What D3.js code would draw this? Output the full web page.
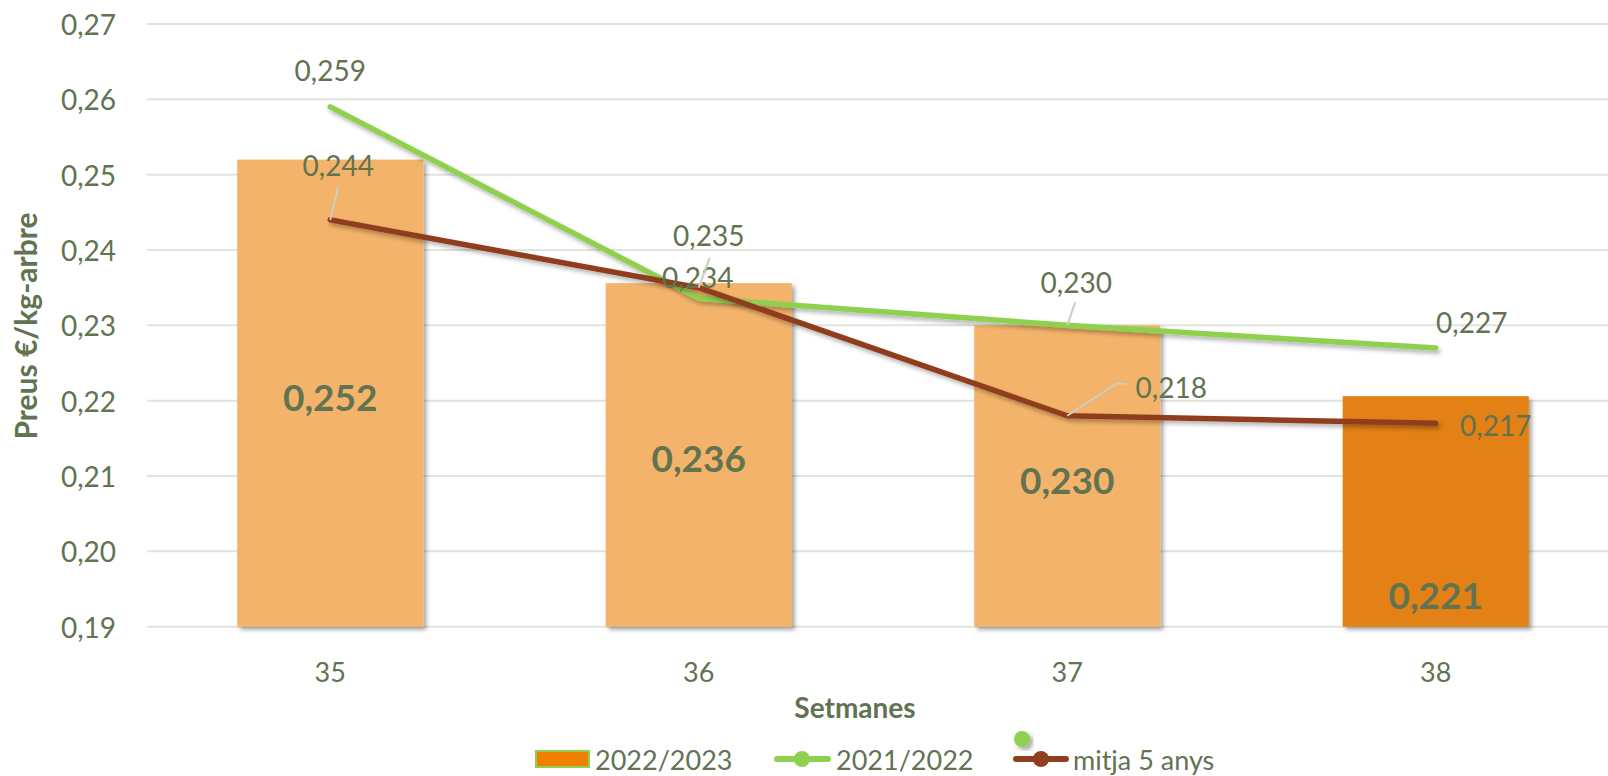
<!DOCTYPE html>
<html>
<head>
<meta charset="utf-8">
<script src="https://cdn.jsdelivr.net/npm/d3@7/dist/d3.min.js"></script>
<style>
  html, body { margin: 0; padding: 0; background: #fff; }
  svg { display: block; font-family: Lato, "Open Sans", sans-serif; }
</style>
</head>
<body>
<svg id="chart" width="1608" height="776"></svg>
<script>
// ---- data ----
const weeks = ["35", "36", "37", "38"];
const season2223 = [0.252, 0.2356, 0.230, 0.2206];
const season2122 = [0.259, 0.2336, 0.230, 0.227];
const avg5years = [0.244, 0.235, 0.218, 0.217];
const yTicks = [0.19, 0.20, 0.21, 0.22, 0.23, 0.24, 0.25, 0.26, 0.27];
const seriesNames = ["2022/2023", "2021/2022", "mitja 5 anys"];

// ---- layout / style ----
const W = 1608, H = 776;
const textColor = "#617350";
const gridColor = "#e3e3db";
const barLight = "#f3b36b";
const barDark = "#e38114";
const green = "#8fd14f";
const brown = "#8f3e1f";
const leaderColor = "#c9d0c0";
const fmt = v => d3.format(".3f")(v).replace(".", ",");
const fmtTick = v => d3.format(".2f")(v).replace(".", ",");

// manual data label placements (offsets from point), as in the original
const greenLabelLayout = [
  { dx: 0, dy: -37 },
  { dx: -1, dy: -21 },
  { dx: 9, dy: -43, leader: [[8, -23]] },
  { dx: 36, dy: -26 }
];
const brownLabelLayout = [
  { dx: 8, dy: -55, leader: [[8, -33]] },
  { dx: 10, dy: -53, leader: [[11, -30]] },
  { dx: 104, dy: -29, leader: [[49, -32], [59, -32]] },
  { dx: 60, dy: 2 }
];

const svg = d3.select("#chart");
const defs = svg.append("defs");
const f = defs.append("filter").attr("id", "shadow")
  .attr("x", "-20%").attr("y", "-20%").attr("width", "140%").attr("height", "140%");
f.append("feDropShadow").attr("dx", 3).attr("dy", 3).attr("stdDeviation", 2)
  .attr("flood-color", "#000").attr("flood-opacity", 0.35);
const fl = defs.append("filter").attr("id", "lshadow")
  .attr("x", "-5%").attr("y", "-50%").attr("width", "110%").attr("height", "200%");
fl.append("feDropShadow").attr("dx", 2).attr("dy", 3).attr("stdDeviation", 2)
  .attr("flood-color", "#000").attr("flood-opacity", 0.3);

const y = d3.scaleLinear().domain([0.19, 0.27]).range([626.7, 24]);
const x = d3.scalePoint().domain(weeks).range([146, 1620]).padding(0.5);
const barW = x.step() * 0.505;

// gridlines
svg.append("g").selectAll("line").data(yTicks).join("line")
  .attr("x1", 147).attr("x2", W)
  .attr("y1", d => y(d)).attr("y2", d => y(d))
  .attr("stroke", gridColor).attr("stroke-width", 2);

// y tick labels
svg.append("g").selectAll("text").data(yTicks).join("text")
  .attr("x", 116).attr("y", d => y(d))
  .attr("text-anchor", "end").attr("dominant-baseline", "central")
  .attr("fill", textColor).attr("font-size", 28)
  .text(fmtTick);

// y axis title
svg.append("text")
  .attr("transform", "translate(25,326) rotate(-90)")
  .attr("text-anchor", "middle").attr("dominant-baseline", "central")
  .attr("fill", textColor).attr("font-size", 30).attr("font-weight", "bold")
  .text("Preus €/kg-arbre");

// x tick labels
svg.append("g").selectAll("text").data(weeks).join("text")
  .attr("x", d => x(d)).attr("y", 671)
  .attr("text-anchor", "middle").attr("dominant-baseline", "central")
  .attr("fill", textColor).attr("font-size", 27)
  .text(d => d);

// x axis title
svg.append("text")
  .attr("x", 855).attr("y", 707)
  .attr("text-anchor", "middle").attr("dominant-baseline", "central")
  .attr("fill", textColor).attr("font-size", 28).attr("font-weight", "bold")
  .text("Setmanes");

// bars
svg.append("g").selectAll("rect").data(season2223).join("rect")
  .attr("x", (d, i) => x(weeks[i]) - barW / 2)
  .attr("width", barW)
  .attr("y", d => y(d))
  .attr("height", d => y(0.19) - y(d))
  .attr("fill", (d, i) => i === season2223.length - 1 ? barDark : barLight)
  .attr("filter", "url(#shadow)");

// bar labels
svg.append("g").selectAll("text").data(season2223).join("text")
  .attr("x", (d, i) => x(weeks[i]))
  .attr("y", (d, i) => i === season2223.length - 1 ? y(0.19) - 32 : (y(d) + y(0.19)) / 2 + 3)
  .attr("text-anchor", "middle").attr("dominant-baseline", "central")
  .attr("fill", textColor).attr("font-size", 37).attr("font-weight", "bold")
  .text(fmt);

// lines
const line = d3.line().x((d, i) => x(weeks[i])).y(d => y(d));
svg.append("path").datum(season2122).attr("d", line)
  .attr("fill", "none").attr("stroke", green).attr("stroke-width", 5.5)
  .attr("stroke-linecap", "round").attr("stroke-linejoin", "round")
  .attr("filter", "url(#lshadow)");
svg.append("path").datum(avg5years).attr("d", line)
  .attr("fill", "none").attr("stroke", brown).attr("stroke-width", 5.5)
  .attr("stroke-linecap", "round").attr("stroke-linejoin", "round")
  .attr("filter", "url(#lshadow)");

// data labels + leaders
function drawLabels(values, layout) {
  const g = svg.append("g");
  values.forEach((v, i) => {
    const px = x(weeks[i]), py = y(v), L = layout[i];
    if (L.leader) {
      const pts = [[px, py]].concat(L.leader.map(p => [px + p[0], py + p[1]]));
      g.append("path").attr("d", d3.line()(pts))
        .attr("fill", "none").attr("stroke", leaderColor).attr("stroke-width", 2);
    }
    g.append("text")
      .attr("x", px + L.dx).attr("y", py + L.dy)
      .attr("text-anchor", "middle").attr("dominant-baseline", "central")
      .attr("fill", textColor).attr("font-size", 28)
      .text(fmt(v));
  });
}
drawLabels(season2122, greenLabelLayout);
drawLabels(avg5years, brownLabelLayout);

// legend
const lg = svg.append("g");
const ly = 759;
lg.append("rect").attr("x", 536).attr("y", ly - 8).attr("width", 53).attr("height", 16)
  .attr("fill", "#f08000").attr("stroke", green).attr("stroke-width", 2);
lg.append("text").attr("x", 595).attr("y", ly).attr("dominant-baseline", "central")
  .attr("fill", textColor).attr("font-size", 27).text(seriesNames[0]);

lg.append("line").attr("x1", 777).attr("x2", 828).attr("y1", ly).attr("y2", ly)
  .attr("stroke", green).attr("stroke-width", 6).attr("stroke-linecap", "round");
lg.append("circle").attr("cx", 802).attr("cy", ly).attr("r", 8).attr("fill", green);
lg.append("text").attr("x", 836).attr("y", ly).attr("dominant-baseline", "central")
  .attr("fill", textColor).attr("font-size", 27).text(seriesNames[1]);

lg.append("line").attr("x1", 1016).attr("x2", 1066).attr("y1", ly).attr("y2", ly)
  .attr("stroke", brown).attr("stroke-width", 6).attr("stroke-linecap", "round");
lg.append("circle").attr("cx", 1041).attr("cy", ly).attr("r", 8).attr("fill", brown);
lg.append("text").attr("x", 1073).attr("y", ly).attr("dominant-baseline", "central")
  .attr("fill", textColor).attr("font-size", 27).text(seriesNames[2]);

// stray marker with shadow above legend (as in original)
lg.append("circle").attr("cx", 1022).attr("cy", 739).attr("r", 8).attr("fill", green)
  .attr("filter", "url(#shadow)");
</script>
</body>
</html>
